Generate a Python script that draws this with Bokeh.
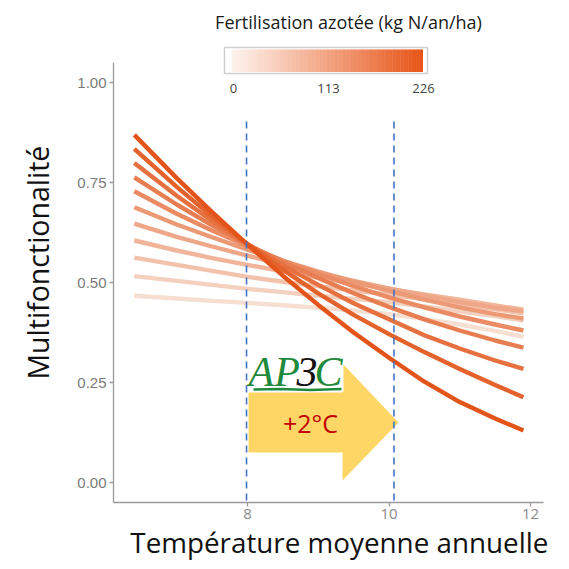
from bokeh.plotting import figure
from bokeh.models import Range1d, FixedTicker
from bokeh.core.properties import value
from bokeh.embed import file_html
from bokeh.resources import INLINE

# ---------------- data ----------------
temperature = [6.4, 7.0, 7.5, 8.0, 8.5, 9.0, 9.5, 10.0, 10.5, 11.0, 11.5, 11.9]
fertilisation = [0, 22.6, 45.2, 67.8, 90.4, 113, 135.6, 158.2, 180.8, 203.4, 226]

mf_n000 = [0.467, 0.460, 0.454, 0.449, 0.443, 0.437, 0.430, 0.421, 0.409, 0.395, 0.379, 0.364]
mf_n023 = [0.516, 0.504, 0.494, 0.484, 0.476, 0.467, 0.459, 0.451, 0.440, 0.428, 0.416, 0.405]
mf_n045 = [0.562, 0.544, 0.529, 0.514, 0.502, 0.491, 0.480, 0.470, 0.458, 0.446, 0.433, 0.423]
mf_n068 = [0.605, 0.580, 0.561, 0.544, 0.528, 0.512, 0.498, 0.484, 0.470, 0.457, 0.443, 0.432]
mf_n090 = [0.647, 0.614, 0.590, 0.567, 0.545, 0.524, 0.504, 0.485, 0.467, 0.451, 0.437, 0.428]
mf_n113 = [0.688, 0.645, 0.613, 0.582, 0.554, 0.527, 0.502, 0.479, 0.457, 0.438, 0.421, 0.410]
mf_n136 = [0.728, 0.672, 0.630, 0.591, 0.555, 0.522, 0.491, 0.463, 0.438, 0.415, 0.395, 0.380]
mf_n158 = [0.763, 0.695, 0.643, 0.595, 0.551, 0.511, 0.473, 0.439, 0.408, 0.380, 0.355, 0.337]
mf_n181 = [0.799, 0.717, 0.654, 0.596, 0.543, 0.494, 0.448, 0.408, 0.368, 0.335, 0.305, 0.284]
mf_n203 = [0.834, 0.739, 0.665, 0.596, 0.532, 0.473, 0.419, 0.371, 0.326, 0.284, 0.244, 0.213]
mf_n226 = [0.869, 0.761, 0.676, 0.595, 0.517, 0.444, 0.375, 0.312, 0.252, 0.201, 0.160, 0.130]

series = [mf_n000, mf_n023, mf_n045, mf_n068, mf_n090, mf_n113,
          mf_n136, mf_n158, mf_n181, mf_n203, mf_n226]

x_ticks = [8, 10, 12]
x_tick_labels = ["8", "10", "12"]
y_ticks = [0.0, 0.25, 0.5, 0.75, 1.0]
y_tick_labels = ["0.00", "0.25", "0.50", "0.75", "1.00"]
cbar_ticks = [0, 113, 226]
cbar_tick_labels = ["0", "113", "226"]
scenario_temps = [7.986, 10.07]          # dashed lines (8 °C and 10 °C)
warming_label = "+2°C"
x_title = "Température moyenne annuelle"
y_title = "Multifonctionalité"
legend_title = "Fertilisation azotée (kg N/an/ha)"

# ---------------- layout helpers (pixel -> data) ----------------
def X(px):
    return 8 + (px - 247) / 70.75

def Y(py):
    return (482 - py) / 400.0

def lerp_color(c0, c1, t):
    return "#%02x%02x%02x" % tuple(int(round(a + (b - a) * t)) for a, b in zip(c0, c1))

line_low, line_high = (246, 222, 209), (226, 84, 26)
cb_low, cb_high = (253, 243, 237), (232, 84, 24)

NB = "\u00a0"
p = figure(width=569, height=569, output_backend="svg", toolbar_location=None,
           x_range=Range1d(X(113), X(543)), y_range=Range1d(Y(502), Y(0)),
           min_border_left=113, min_border_right=26, min_border_top=0,
           min_border_bottom=67)
p.outline_line_color = None
p.xgrid.visible = False
p.ygrid.visible = False
p.background_fill_color = "white"

axis_col = "#9a9a9a"
for ax in (p.xaxis[0], p.yaxis[0]):
    ax.axis_line_color = axis_col
    ax.axis_line_width = 1.3
    ax.major_tick_line_color = axis_col
    ax.major_tick_line_width = 1.3
    ax.major_tick_out = 4
    ax.major_tick_in = 0
    ax.minor_tick_line_color = None
    ax.axis_label_text_font = "Open Sans"
    ax.axis_label_text_font_style = "normal"
    ax.axis_label_text_color = "#111111"

p.xaxis.ticker = FixedTicker(ticks=x_ticks)
p.xaxis.major_label_overrides = {t: l for t, l in zip(x_ticks, x_tick_labels)}
p.xaxis.major_label_text_font = "Open Sans"
p.xaxis.major_label_text_font_size = "15px"
p.xaxis.major_label_text_color = "#8a8a8a"
p.xaxis.major_label_standoff = 2
p.xaxis.axis_label = NB * 3 + x_title
p.xaxis.axis_label_text_font_size = "27.8px"
p.xaxis.axis_label_standoff = 1

p.yaxis.ticker = FixedTicker(ticks=y_ticks)
p.yaxis.major_label_overrides = {t: l for t, l in zip(y_ticks, y_tick_labels)}
p.yaxis.bounds = (-0.05, 1.05)
p.yaxis.major_label_text_font = "Liberation Sans"
p.yaxis.major_label_text_font_size = "15px"
p.yaxis.major_label_text_color = "#7a7a7a"
p.yaxis.major_label_standoff = 3
p.yaxis.axis_label = y_title + NB * 3
p.yaxis.axis_label_text_font_size = "28.5px"
p.yaxis.axis_label_standoff = 17

# ---------------- curves ----------------
n_max = max(fertilisation)
for n, ys in zip(fertilisation, series):
    p.line(temperature, ys, line_width=4.4, line_join="round",
           color=lerp_color(line_low, line_high, n / n_max))

# ---------------- arrow (+2°C) ----------------
arrow_px = [(248, 392), (342, 392), (342, 363), (398, 422), (342, 480), (342, 452), (248, 452)]
p.patch([X(a) for a, b in arrow_px], [Y(b) for a, b in arrow_px],
        fill_color="#fdd666", line_color=None)
p.text(x=[X(310)], y=[Y(422)], text=[warming_label], text_align="center",
       text_baseline="middle", text_font=value("Open Sans"), text_font_size="25px",
       text_color="#c00000")

# ---------------- dashed scenario lines ----------------
p.segment(x0=scenario_temps, x1=scenario_temps, y0=[Y(500)] * 2, y1=[Y(118)] * 2,
          line_color="#4472c4", line_width=1.6, line_dash="7 5")

# ---------------- AP3C logo ----------------
p.quad(left=[X(248)], right=[X(343)], top=[Y(350)], bottom=[Y(391)],
       fill_color="white", line_color=None)
green = "#1f8a3b"
for txt, px, col in (("AP", 248, green), ("3", 296, "#111111"), ("C", 314, green)):
    p.text(x=[X(px)], y=[Y(371)], text=[txt], text_font=value("Liberation Serif"),
           text_font_style="italic", text_font_size="42px", text_color=col,
           text_align="left", text_baseline="middle")
p.line([X(253), X(280), X(310), X(341)], [Y(389), Y(388.5), Y(389.5), Y(388.5)],
       line_color=green, line_width=2.5)

# ---------------- colour bar legend ----------------
p.quad(left=[X(224)], right=[X(427)], top=[Y(47)], bottom=[Y(73)],
       fill_color="white", line_color="#cfcfcf", line_width=1.5)
steps = 120
g0, g1 = 231, 422
lefts, rights, cols = [], [], []
for i in range(steps):
    a = g0 + (g1 - g0) * i / steps
    b = g0 + (g1 - g0) * (i + 1) / steps + 0.5
    lefts.append(X(a)); rights.append(X(b))
    cols.append(lerp_color(cb_low, cb_high, i / (steps - 1)))
p.quad(left=lefts, right=rights, top=[Y(49)] * steps, bottom=[Y(71.5)] * steps,
       fill_color=cols, line_color=None)
cb_x = [X(233 + v / cbar_ticks[-1] * 190) for v in cbar_ticks]
p.text(x=cb_x, y=[Y(88)] * len(cb_x), text=cbar_tick_labels, text_align="center",
       text_baseline="middle", text_font=value("Open Sans"), text_font_size="13px",
       text_color="#444444")
p.text(x=[X(348)], y=[Y(21)], text=[legend_title],
       text_align="center", text_baseline="middle", text_font=value("Open Sans"),
       text_font_size="18px", text_color="#1a1a1a")

open("out.html", "w").write(file_html(p, INLINE))
